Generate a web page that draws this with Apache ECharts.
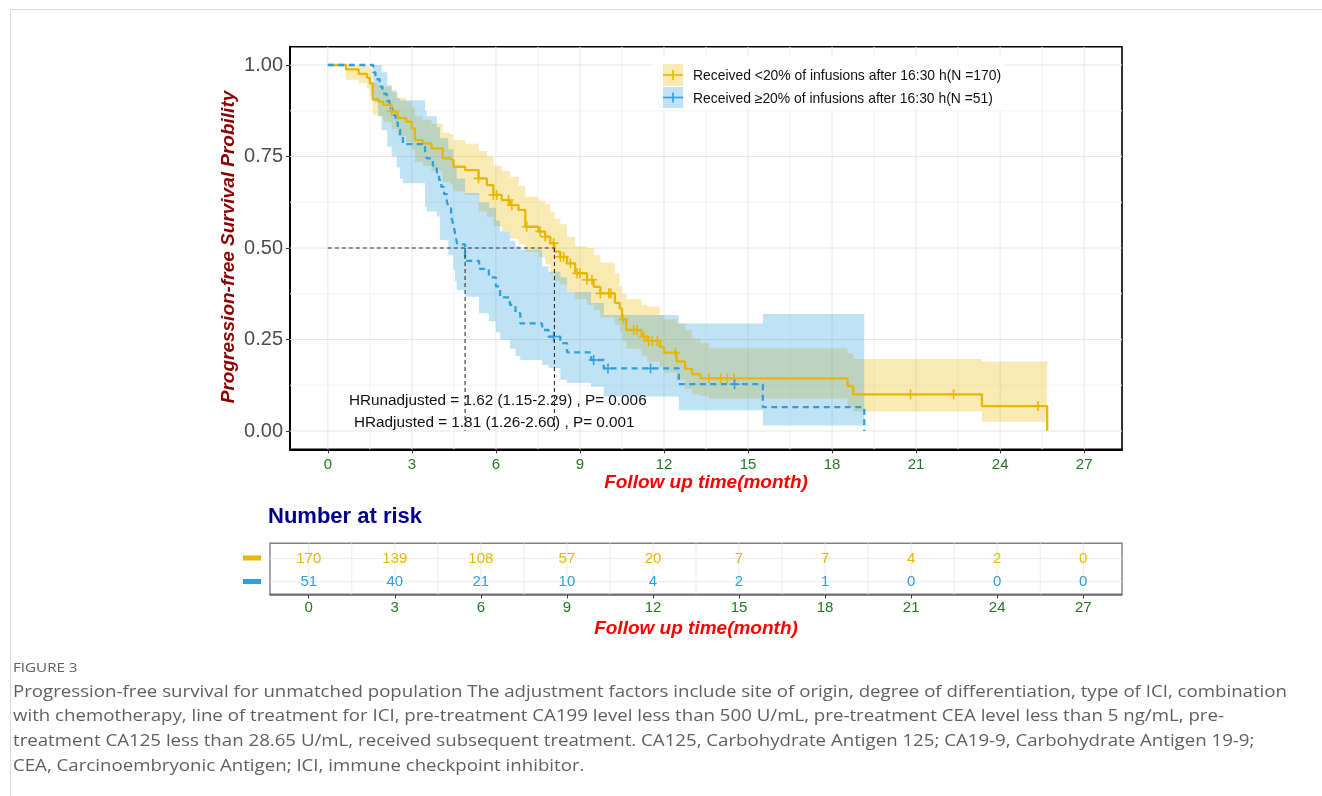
<!DOCTYPE html>
<html>
<head>
<meta charset="utf-8">
<script src="https://cdn.jsdelivr.net/npm/echarts@6/dist/echarts.min.js"></script>
<style>
html,body{margin:0;padding:0;background:#fff;}
#chart{width:1322px;height:796px;}
</style>
</head>
<body>
<div id="chart"></div>
<script>
// ---------------- DATA ----------------
const xTicks = [0, 3, 6, 9, 12, 15, 18, 21, 24, 27];
const xMinor = [1.5, 4.5, 7.5, 10.5, 13.5, 16.5, 19.5, 22.5, 25.5];
const yTicks = [0, 0.25, 0.5, 0.75, 1];
const yMinor = [0.125, 0.375, 0.625, 0.875];

// Group 1: Received <20% of infusions after 16:30 h (N=170)
const kmLowT = [0, 0.65, 1.10, 1.40, 1.50, 1.60, 1.80, 1.98, 2.28, 2.50, 2.80, 2.99, 3.11, 3.40, 3.70, 4.10, 4.36, 4.48, 4.90, 5.38, 5.68, 5.91, 6.21, 6.51, 6.81, 7.05, 7.52, 7.76, 7.94, 8.09, 8.30, 8.54, 8.83, 9.25, 9.49, 9.73, 10.25, 10.42, 10.50, 10.65, 11.20, 11.40, 11.85, 12.00, 12.45, 12.75, 13.00, 13.30, 18.55, 18.75, 23.35, 25.68];
const kmLowS = [1.000, 0.988, 0.976, 0.965, 0.950, 0.906, 0.900, 0.891, 0.873, 0.855, 0.845, 0.827, 0.795, 0.786, 0.772, 0.745, 0.740, 0.722, 0.713, 0.690, 0.672, 0.645, 0.631, 0.617, 0.604, 0.558, 0.545, 0.531, 0.513, 0.490, 0.476, 0.458, 0.431, 0.413, 0.394, 0.376, 0.350, 0.335, 0.305, 0.276, 0.258, 0.246, 0.230, 0.214, 0.190, 0.170, 0.155, 0.144, 0.123, 0.100, 0.068, 0.000];
const bandLowT = [0, 0.65, 1.10, 1.40, 1.50, 1.60, 1.80, 1.98, 2.28, 2.50, 2.80, 2.99, 3.11, 3.40, 3.70, 4.10, 4.36, 4.48, 4.90, 5.38, 5.68, 5.91, 6.21, 6.51, 6.81, 7.05, 7.52, 7.76, 7.94, 8.09, 8.30, 8.54, 8.83, 9.25, 9.49, 9.73, 10.25, 10.42, 10.50, 10.65, 11.20, 11.40, 11.85, 12.00, 12.45, 12.75, 13.00, 13.30, 13.60, 18.55, 18.75, 23.35, 25.68];
const bandLowLo = [1.000, 0.960, 0.950, 0.935, 0.915, 0.865, 0.860, 0.845, 0.825, 0.805, 0.790, 0.770, 0.735, 0.725, 0.710, 0.680, 0.675, 0.655, 0.645, 0.600, 0.585, 0.560, 0.545, 0.525, 0.510, 0.490, 0.475, 0.455, 0.430, 0.410, 0.400, 0.380, 0.360, 0.345, 0.330, 0.310, 0.290, 0.270, 0.245, 0.225, 0.205, 0.190, 0.175, 0.160, 0.140, 0.115, 0.100, 0.095, 0.089, 0.066, 0.053, 0.025];
const bandLowUp = [1.000, 1.000, 1.000, 0.995, 0.990, 0.950, 0.945, 0.940, 0.925, 0.910, 0.900, 0.885, 0.860, 0.850, 0.840, 0.815, 0.810, 0.795, 0.785, 0.765, 0.750, 0.725, 0.710, 0.695, 0.670, 0.640, 0.630, 0.620, 0.600, 0.580, 0.565, 0.530, 0.505, 0.500, 0.480, 0.460, 0.430, 0.395, 0.375, 0.360, 0.345, 0.340, 0.317, 0.305, 0.294, 0.276, 0.253, 0.240, 0.226, 0.212, 0.197, 0.190];
const censorLowT = [2.28, 5.38, 5.91, 6.03, 6.45, 6.57, 7.10, 7.58, 7.76, 8.06, 8.30, 8.42, 8.66, 8.90, 9.00, 9.25, 9.43, 9.73, 10.03, 10.10, 10.55, 10.92, 11.04, 11.28, 11.46, 11.58, 11.76, 12.41, 13.60, 14.02, 14.26, 14.50, 20.80, 22.34, 25.35];

// Group 2: Received >=20% of infusions after 16:30 h (N=51)
const kmHighT = [0, 1.62, 1.70, 1.85, 1.95, 2.10, 2.20, 2.30, 2.42, 2.50, 2.58, 2.68, 3.47, 3.53, 3.75, 3.89, 3.97, 4.05, 4.15, 4.25, 4.32, 4.40, 4.46, 4.52, 4.57, 4.62, 4.90, 5.40, 5.75, 6.00, 6.15, 6.50, 6.70, 6.87, 7.65, 7.88, 8.30, 8.54, 9.40, 9.85, 12.53, 15.53, 19.15];
const kmHighS = [1.000, 0.980, 0.961, 0.941, 0.922, 0.902, 0.882, 0.863, 0.843, 0.824, 0.804, 0.784, 0.765, 0.745, 0.725, 0.706, 0.686, 0.667, 0.647, 0.627, 0.608, 0.588, 0.569, 0.549, 0.529, 0.510, 0.465, 0.443, 0.420, 0.395, 0.365, 0.345, 0.322, 0.294, 0.276, 0.258, 0.240, 0.215, 0.194, 0.171, 0.128, 0.065, 0.000];
const bandHighT = [0, 1.62, 1.80, 1.92, 2.12, 2.28, 2.46, 2.58, 2.68, 3.47, 3.53, 3.89, 4.00, 4.30, 4.48, 4.54, 4.60, 4.90, 5.40, 5.75, 6.00, 6.15, 6.50, 6.70, 6.87, 7.65, 7.88, 8.30, 8.54, 9.40, 9.85, 12.53, 15.53, 19.15];
const bandHighLo = [1.000, 0.900, 0.860, 0.822, 0.777, 0.750, 0.720, 0.690, 0.677, 0.613, 0.600, 0.586, 0.522, 0.480, 0.440, 0.410, 0.385, 0.367, 0.322, 0.300, 0.270, 0.249, 0.225, 0.205, 0.194, 0.180, 0.172, 0.140, 0.131, 0.121, 0.094, 0.057, 0.015];
const bandHighUp = [1.000, 1.000, 1.000, 0.980, 0.945, 0.930, 0.910, 0.904, 0.904, 0.875, 0.860, 0.830, 0.800, 0.770, 0.740, 0.720, 0.690, 0.650, 0.625, 0.610, 0.575, 0.545, 0.520, 0.505, 0.495, 0.450, 0.435, 0.420, 0.380, 0.350, 0.317, 0.294, 0.320];
const censorHighT = [8.06, 9.49, 10.00, 11.52, 14.52];

const medianTimes = [4.90, 8.09];
const medianLevel = 0.5;

// Number at risk
const riskTimes = [0, 3, 6, 9, 12, 15, 18, 21, 24, 27];
const riskLow = [170, 139, 108, 57, 20, 7, 7, 4, 2, 0];
const riskHigh = [51, 40, 21, 10, 4, 2, 1, 0, 0, 0];

const legendLow = 'Received <20% of infusions after 16:30 h(N =170)';
const legendHigh = 'Received \u226520% of infusions after 16:30 h(N =51)';
const hrText1 = 'HRunadjusted = 1.62 (1.15-2.29) , P= 0.006';
const hrText2 = 'HRadjusted = 1.81 (1.26-2.60) , P= 0.001';
const captionTitle = 'FIGURE 3';
const captionLines = [
  'Progression-free survival for unmatched population The adjustment factors include site of origin, degree of differentiation, type of ICI, combination',
  'with chemotherapy, line of treatment for ICI, pre-treatment CA199 level less than 500 U/mL, pre-treatment CEA level less than 5 ng/mL, pre-',
  'treatment CA125 less than 28.65 U/mL, received subsequent treatment. CA125, Carbohydrate Antigen 125; CA19-9, Carbohydrate Antigen 19-9;',
  'CEA, Carcinoembryonic Antigen; ICI, immune checkpoint inhibitor.'
];

// ---------------- STYLE ----------------
const C_LOW = '#E7B800', C_HIGH = '#2E9FDF';
const F_LOW = 'rgba(231,184,0,0.30)', F_HIGH = 'rgba(46,159,223,0.30)';
const FONT = '"Liberation Sans", Arial, sans-serif';
const GREEN = '#1E7B1E';

function stepAt(T, S, t) {
  let v = S[0];
  for (let i = 0; i < T.length; i++) { if (T[i] <= t + 1e-9) v = S[i]; else break; }
  return v;
}

function gridLines(gi, vx, vy, color, z) {
  return {
    type: 'custom', xAxisIndex: gi, yAxisIndex: gi, silent: true, z: z,
    data: [[0, 1]],
    renderItem(params, api) {
      const cs = params.coordSys;
      const children = [];
      vx.forEach(v => {
        const p = api.coord([v, 1]);
        children.push({type: 'line', shape: {x1: p[0], y1: cs.y, x2: p[0], y2: cs.y + cs.height}, style: {stroke: color, lineWidth: 1}});
      });
      vy.forEach(v => {
        const p = api.coord([0, v]);
        children.push({type: 'line', shape: {x1: cs.x, y1: p[1], x2: cs.x + cs.width, y2: p[1]}, style: {stroke: color, lineWidth: 1}});
      });
      return {type: 'group', children};
    }
  };
}

function bandSeries(T, lo, up, fill) {
  return {
    type: 'custom', xAxisIndex: 0, yAxisIndex: 0, silent: true, z: 3,
    data: [[T[0], up[0]]],
    renderItem(params, api) {
      const pts = [];
      for (let i = 0; i < lo.length; i++) { pts.push(api.coord([T[i], up[i]])); pts.push(api.coord([T[i + 1], up[i]])); }
      for (let i = lo.length - 1; i >= 0; i--) { pts.push(api.coord([T[i + 1], lo[i]])); pts.push(api.coord([T[i], lo[i]])); }
      return {type: 'polygon', shape: {points: pts}, style: {fill: fill}};
    }
  };
}

function kmSeries(T, S, color, dashed) {
  return {
    type: 'line', xAxisIndex: 0, yAxisIndex: 0, step: 'end', showSymbol: false, silent: true, z: 5,
    data: T.map((t, i) => [t, S[i]]),
    lineStyle: {color: color, width: 2.3, type: dashed ? [6, 4.5] : 'solid'}
  };
}

function censorSeries(CT, T, S, color) {
  return {
    type: 'custom', xAxisIndex: 0, yAxisIndex: 0, silent: true, z: 6,
    data: CT.map(t => [t, stepAt(T, S, t)]),
    renderItem(params, api) {
      const p = api.coord([api.value(0), api.value(1)]);
      return {type: 'group', children: [
        {type: 'line', shape: {x1: p[0] - 5, y1: p[1], x2: p[0] + 5, y2: p[1]}, style: {stroke: color, lineWidth: 1.6}},
        {type: 'line', shape: {x1: p[0], y1: p[1] - 5, x2: p[0], y2: p[1] + 5}, style: {stroke: color, lineWidth: 1.6}}
      ]};
    }
  };
}

const medianSeries = {
  type: 'custom', xAxisIndex: 0, yAxisIndex: 0, silent: true, z: 7,
  data: [[0, medianLevel]],
  renderItem(params, api) {
    const st = {stroke: '#333', lineWidth: 1.1, lineDash: [4, 3]};
    const a = api.coord([0, medianLevel]);
    const b = api.coord([Math.max(...medianTimes), medianLevel]);
    const ch = [{type: 'line', shape: {x1: a[0], y1: a[1], x2: b[0], y2: b[1]}, style: st}];
    medianTimes.forEach(m => {
      const p = api.coord([m, medianLevel]), q = api.coord([m, 0]);
      ch.push({type: 'line', shape: {x1: p[0], y1: p[1], x2: q[0], y2: q[1]}, style: st});
    });
    return {type: 'group', children: ch};
  }
};

function riskSeries(counts, row, color) {
  return {
    type: 'custom', xAxisIndex: 1, yAxisIndex: 1, silent: true, z: 5,
    data: riskTimes.map((t, i) => [t, row, counts[i]]),
    renderItem(params, api) {
      const p = api.coord([api.value(0), api.value(1)]);
      return {type: 'text', x: p[0], y: p[1], style: {text: String(api.value(2)), fill: color, font: '15px ' + FONT, align: 'center', verticalAlign: 'middle'}};
    }
  };
}

// caption scale to emulate the condensed caption face
const capFont = '16px "Open Sans", "Liberation Sans", sans-serif';
const cv = document.createElement('canvas').getContext('2d');
cv.font = capFont;
const capScale = 1274 / cv.measureText(captionLines[0]).width;

const graphics = [
  {type: 'line', shape: {x1: 10, y1: 9.5, x2: 1322, y2: 9.5}, style: {stroke: '#D9D9D9', lineWidth: 1}, z: 1},
  {type: 'line', shape: {x1: 10.5, y1: 9, x2: 10.5, y2: 796}, style: {stroke: '#D9D9D9', lineWidth: 1}, z: 1},
  // legend
  {type: 'rect', shape: {x: 653, y: 57, width: 352, height: 53}, style: {fill: '#fff'}, z: 50},
  {type: 'rect', shape: {x: 663, y: 64, width: 20, height: 22}, style: {fill: F_LOW}, z: 51},
  {type: 'rect', shape: {x: 663, y: 87, width: 20, height: 21}, style: {fill: F_HIGH}, z: 51},
  {type: 'line', shape: {x1: 663, y1: 75, x2: 683, y2: 75}, style: {stroke: C_LOW, lineWidth: 1.6}, z: 52},
  {type: 'line', shape: {x1: 673, y1: 70, x2: 673, y2: 80}, style: {stroke: C_LOW, lineWidth: 1.6}, z: 52},
  {type: 'line', shape: {x1: 663, y1: 97.5, x2: 683, y2: 97.5}, style: {stroke: C_HIGH, lineWidth: 1.6}, z: 52},
  {type: 'line', shape: {x1: 673, y1: 92.5, x2: 673, y2: 102.5}, style: {stroke: C_HIGH, lineWidth: 1.6}, z: 52},
  {type: 'text', x: 693, y: 76, style: {text: legendLow, fill: '#111', font: '13.9px ' + FONT, verticalAlign: 'middle'}, z: 52},
  {type: 'text', x: 693, y: 99, style: {text: legendHigh, fill: '#111', font: '13.9px ' + FONT, verticalAlign: 'middle'}, z: 52},
  // HR annotation
  {type: 'text', x: 349, y: 401, style: {text: hrText1, fill: '#111', font: '15.3px ' + FONT, verticalAlign: 'middle'}, z: 8},
  {type: 'text', x: 354, y: 423, style: {text: hrText2, fill: '#111', font: '15.3px ' + FONT, verticalAlign: 'middle'}, z: 8},
  // axis titles
  {type: 'text', x: 706, y: 483, style: {text: 'Follow up time(month)', fill: '#FF0000', font: 'italic bold 19px ' + FONT, align: 'center', verticalAlign: 'middle'}, z: 10},
  {type: 'text', x: 229, y: 247, rotation: Math.PI / 2, style: {text: 'Progression-free Survival Probility', fill: '#8B0000', font: 'italic bold 19px ' + FONT, align: 'center', verticalAlign: 'middle'}, z: 10},
  // risk table
  {type: 'text', x: 268, y: 517, style: {text: 'Number at risk', fill: '#00008B', font: 'bold 22px ' + FONT, verticalAlign: 'middle'}, z: 10},
  {type: 'rect', shape: {x: 243, y: 555.5, width: 18, height: 5}, style: {fill: C_LOW}, z: 10},
  {type: 'rect', shape: {x: 243, y: 579, width: 18, height: 5}, style: {fill: C_HIGH}, z: 10},
  {type: 'text', x: 696, y: 629, style: {text: 'Follow up time(month)', fill: '#FF0000', font: 'italic bold 19px ' + FONT, align: 'center', verticalAlign: 'middle'}, z: 10},
  // caption
  {type: 'text', x: 13, y: 668, scaleX: capScale, style: {text: captionTitle, fill: '#5f5f5f', font: '13px "Open Sans", "Liberation Sans", sans-serif', verticalAlign: 'middle'}, z: 10}
];
captionLines.forEach((ln, i) => {
  graphics.push({type: 'text', x: 13, y: 692 + i * 24.7, scaleX: capScale, style: {text: ln, fill: '#5f5f5f', font: capFont, verticalAlign: 'middle'}, z: 10});
});

const option = {
  animation: false,
  backgroundColor: '#fff',
  grid: [
    {left: 290, top: 46.7, width: 832, height: 402.6, show: true, borderColor: '#000', borderWidth: 1.6, containLabel: false},
    {left: 270, top: 543.3, width: 852, height: 51, show: true, borderColor: '#808080', borderWidth: 1.4, containLabel: false}
  ],
  xAxis: [
    {type: 'value', gridIndex: 0, min: -1.35, max: 28.35,
     splitLine: {show: false},
     axisLine: {show: true, onZero: false, lineStyle: {color: '#000', width: 2}},
     axisTick: {show: true, customValues: xTicks, length: 4, lineStyle: {color: '#333', width: 1}},
     axisLabel: {customValues: xTicks, color: GREEN, fontSize: 15, fontFamily: FONT, margin: 8}},
    {type: 'value', gridIndex: 1, min: -1.35, max: 28.35,
     splitLine: {show: false},
     axisLine: {show: true, onZero: false, lineStyle: {color: '#666', width: 1.6}},
     axisTick: {show: true, customValues: xTicks, length: 4, lineStyle: {color: '#333', width: 1}},
     axisLabel: {customValues: xTicks, color: GREEN, fontSize: 15, fontFamily: FONT, margin: 6}}
  ],
  yAxis: [
    {type: 'value', gridIndex: 0, min: -0.05, max: 1.05,
     splitLine: {show: false},
     axisLine: {show: true, onZero: false, lineStyle: {color: '#000', width: 2}},
     axisTick: {show: true, customValues: yTicks, length: 4, lineStyle: {color: '#333', width: 1}},
     axisLabel: {customValues: yTicks, color: '#4D4D4D', fontSize: 20, fontFamily: FONT, margin: 7, formatter: v => Number(v).toFixed(2)}},
    {type: 'value', gridIndex: 1, min: 0.46, max: 2.65,
     splitLine: {show: false}, axisLine: {show: false}, axisTick: {show: false}, axisLabel: {show: false}}
  ],
  graphic: graphics,
  series: [
    gridLines(0, xMinor, yMinor, '#F3F3F3', 1),
    gridLines(0, xTicks, yTicks, '#E6E6E6', 2),
    gridLines(1, xTicks.concat(xMinor), [1, 2], '#EBEBEB', 1),
    bandSeries(bandLowT, bandLowLo, bandLowUp, F_LOW),
    bandSeries(bandHighT, bandHighLo, bandHighUp, F_HIGH),
    kmSeries(kmLowT, kmLowS, C_LOW, false),
    kmSeries(kmHighT, kmHighS, C_HIGH, true),
    censorSeries(censorLowT, kmLowT, kmLowS, C_LOW),
    censorSeries(censorHighT, kmHighT, kmHighS, C_HIGH),
    medianSeries,
    riskSeries(riskLow, 2, C_LOW),
    riskSeries(riskHigh, 1, C_HIGH)
  ]
};

const chart = echarts.init(document.getElementById('chart'), null, {renderer: 'canvas'});
chart.setOption(option);
</script>
</body>
</html>
